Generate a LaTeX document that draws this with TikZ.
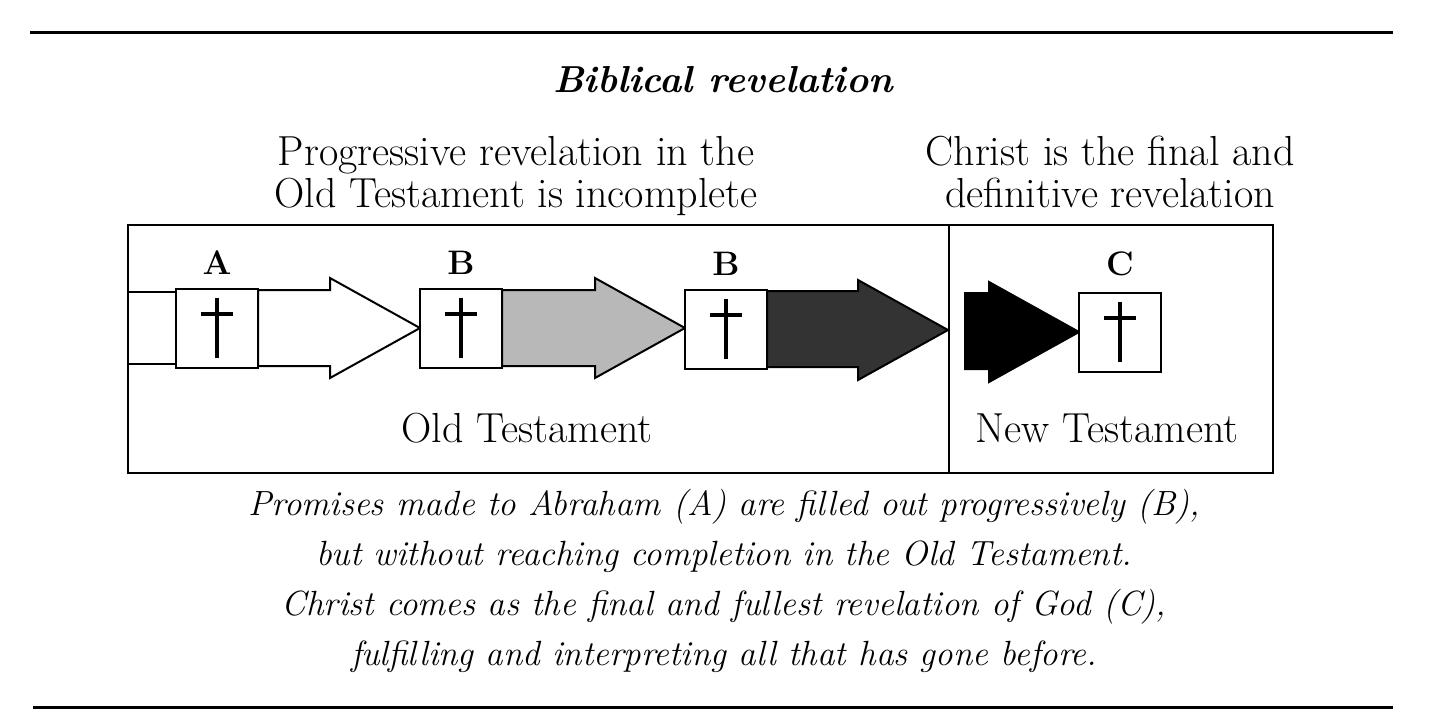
\documentclass[tikz,border=0pt]{standalone}
\usepackage{fontspec}
\usetikzlibrary{calc, positioning}

% block arrow from tail point #1 to tip point #2
\newcommand{\blockarrow}[3]{%
  \draw[#3] let \p1=(#1), \p2=(#2) in
    (\x1,\y1+19pt) -- (\x2-45pt,\y1+19pt) -- (\x2-45pt,\y2+25pt) -- (\x2,\y2)
    -- (\x2-45pt,\y2-25pt) -- (\x2-45pt,\y1-19pt) -- (\x1,\y1-19pt) -- cycle;}

\begin{document}
\begin{tikzpicture}[x=0.5pt, y=-0.5pt, line join=miter,
    panel/.style={draw, line width=1pt, inner sep=0pt, minimum height=124pt},
    crossbox/.style={draw, line width=1pt, fill=white, inner sep=0pt,
      minimum width=41pt, minimum height=39.5pt,
      path picture={
        \draw[line width=2pt] ([yshift=15pt]path picture bounding box.center)
          -- ([yshift=-15pt]path picture bounding box.center);
        \draw[line width=2pt] ([xshift=-8pt,yshift=7pt]path picture bounding box.center)
          -- ([xshift=8pt,yshift=7pt]path picture bounding box.center);}},
    tag/.style={font=\fontsize{17}{19}\selectfont\bfseries, inner sep=0pt},
    body/.style={font=\fontsize{21}{21}\selectfont, align=center, inner sep=0pt, anchor=base},
    note/.style={font=\fontsize{17.5}{25}\selectfont\itshape, align=center, inner sep=0pt, anchor=base},
    rule/.style={line width=1.5pt}]

  \useasboundingbox (0,0) rectangle (1450,725);

  % Rules
  \coordinate (tl) at (30,32);
  \coordinate (tr) at (1393,32);
  \coordinate (bl) at (33,707);
  \coordinate (br) at (1393,707);
  \draw[rule] (tl) -- (tr);
  \draw[rule] (bl) -- (br);

  % Title and headings (base = last line)
  \node[body, font=\fontsize{18.8}{21}\selectfont\bfseries\itshape] (title) at (723,92) {Biblical revelation};
  \node[body] (otHead) at (516,207) {Progressive revelation in the\\Old Testament is incomplete};
  \node[body] (ntHead) at (1110,207) {Christ is the final and\\definitive revelation};

  % Panels
  \node[panel, minimum width=410.5pt] (ot) at (538.5,349) {};
  \node[panel, minimum width=162pt] (nt) at (1111,349) {};
  \node[body] (otName) at (527,442) {Old Testament};
  \node[body] (ntName) at (1107,442) {New Testament};

  % Arrows
  \coordinate (ntStart) at (965,331);
  \draw[line width=1pt] let \p1=(ot.west), \p2=(176,328) in
    (\x1,\y2+18pt) -- (\x2,\y2+18pt) (\x1,\y2-18pt) -- (\x2,\y2-18pt);
  \blockarrow{258,328}{420,328}{fill=white, line width=1pt}
  \blockarrow{502,328}{685,328}{fill=black!28, line width=1pt}
  \blockarrow{767,329}{nt.west |- 0,330}{fill=black!80, line width=1pt}
  \blockarrow{ntStart}{1079,332}{fill=black, line width=1pt}

  % Boxes with crosses
  \node[crossbox] (A) at (217,328) {};
  \node[crossbox] (B1) at (461,328) {};
  \node[crossbox] (B2) at (726,329) {};
  \node[crossbox] (C) at (1120,332) {};
  \node[tag, above=6.5pt of A] (tagA) {A};
  \node[tag, above=6.5pt of B1] (tagB1) {B};
  \node[tag, above=6.5pt of B2] (tagB2) {B};
  \node[tag, above=7.5pt of C] (tagC) {C};

  % Caption
  \node[note] (caption) at (724,665) {Promises made to Abraham (A) are filled out progressively (B),\\
    but without reaching completion in the Old Testament.\\
    Christ comes as the final and fullest revelation of God (C),\\
    fulfilling and interpreting all that has gone before.};

\end{tikzpicture}
\end{document}
